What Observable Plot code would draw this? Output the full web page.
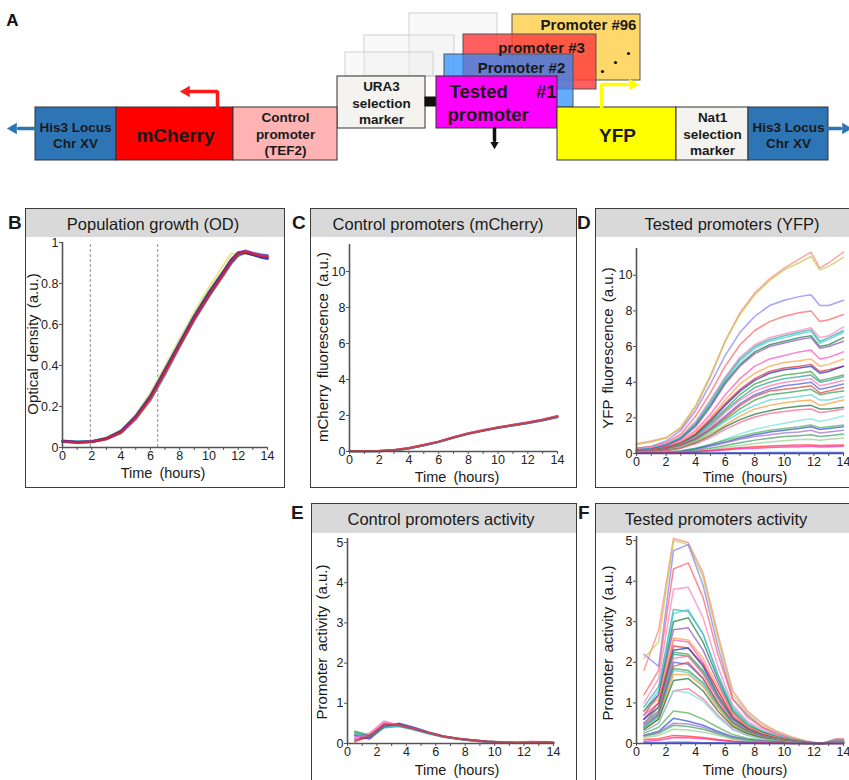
<!DOCTYPE html>
<html><head><meta charset="utf-8">
<script src="https://cdn.jsdelivr.net/npm/d3@7"></script>
<script src="https://cdn.jsdelivr.net/npm/@observablehq/plot@0.6"></script>
<style>
body{margin:0;background:#fff;}
#page{position:relative;width:849px;height:780px;overflow:hidden;font-family:"Liberation Sans",Arial,sans-serif;color:#1a1a1a;background:#fff;}
.frame{position:absolute;border:1.6px solid #3c3c3c;box-sizing:border-box;}
.hdr{position:absolute;left:0;right:0;top:0;background:#d9d9d9;}
.title{position:absolute;font-size:16.5px;transform:translate(-50%,-50%);white-space:nowrap;color:#1a1a1a;}
.plet{position:absolute;font-weight:bold;font-size:19px;transform:translateY(-50%);}
.xl{position:absolute;font-size:14.5px;word-spacing:3px;transform:translate(-50%,-50%);white-space:nowrap;}
.yl{position:absolute;font-size:15px;word-spacing:2px;transform:translate(-50%,-50%) rotate(-90deg);white-space:nowrap;}
svg{overflow:visible;}
</style></head><body><div id="page"></div>
<script>
// ---------------- DATA ----------------
// Panel B: optical density
const timesB = [0,1,2,3,4,5,6,7,8,9,10,11,11.5,12,12.5,13,13.5,14];
const odSeries = [
 [0.030,0.026,0.030,0.048,0.085,0.160,0.265,0.395,0.530,0.660,0.780,0.890,0.945,0.948,0.945,0.940,0.935,0.930],
 [0.028,0.024,0.026,0.040,0.070,0.138,0.230,0.355,0.490,0.620,0.735,0.840,0.895,0.935,0.950,0.945,0.940,0.935],
 [0.033,0.028,0.031,0.046,0.081,0.155,0.253,0.382,0.515,0.645,0.760,0.862,0.915,0.952,0.958,0.950,0.942,0.938],
 [0.030,0.026,0.029,0.044,0.078,0.152,0.248,0.375,0.505,0.635,0.750,0.855,0.910,0.950,0.960,0.948,0.940,0.935],
 [0.031,0.025,0.027,0.041,0.073,0.142,0.236,0.362,0.495,0.625,0.740,0.845,0.900,0.940,0.952,0.942,0.932,0.928],
 [0.029,0.024,0.027,0.043,0.076,0.147,0.243,0.368,0.500,0.628,0.742,0.848,0.900,0.942,0.950,0.940,0.928,0.920],
 [0.032,0.027,0.030,0.045,0.080,0.150,0.250,0.380,0.510,0.640,0.755,0.860,0.915,0.950,0.950,0.940,0.930,0.925],
 [0.030,0.025,0.028,0.042,0.075,0.145,0.240,0.370,0.500,0.630,0.745,0.850,0.905,0.945,0.955,0.945,0.935,0.930]
];
const odColors = ["#f0e070","#30a050","#20a0b0","#a030c0","#ff50b0","#2040d0","#3030a0","#e02030"];
const odMarkers = [1.9, 6.5];

// Panel C: mCherry fluorescence
const timesC = [0,1,2,3,4,5,6,7,8,9,10,11,12,13,14];
const mcherrySeries = [
 [0.02,0.02,0.03,0.07,0.18,0.35,0.54,0.78,1.00,1.17,1.33,1.46,1.60,1.75,1.95],
 [0.03,0.02,0.03,0.08,0.20,0.37,0.56,0.80,1.02,1.19,1.35,1.48,1.62,1.78,1.98],
 [0.01,0.01,0.02,0.06,0.16,0.33,0.52,0.76,0.98,1.15,1.31,1.44,1.57,1.72,1.90],
 [0.02,0.02,0.03,0.07,0.19,0.36,0.55,0.79,1.01,1.18,1.34,1.47,1.61,1.77,1.97],
 [0.02,0.01,0.02,0.06,0.17,0.34,0.53,0.77,0.99,1.16,1.32,1.45,1.58,1.73,1.92],
 [0.03,0.03,0.04,0.08,0.19,0.36,0.55,0.79,1.00,1.17,1.33,1.47,1.60,1.76,1.95]
];
const controlColors = ["#30a040","#a040c0","#3040c0","#ff60c0","#20a0a0","#e03030"];

// Panel D: YFP fluorescence
const timesD = [0,1,2,3,4,5,6,7,8,9,10,11,11.8,12.4,13,14];
const yfpSeries = [
 [0.55,0.70,0.90,1.40,2.60,4.30,6.30,7.90,9.00,9.80,10.40,10.90,11.30,10.40,10.70,11.30],
 [0.50,0.65,0.85,1.50,2.70,4.40,6.30,7.80,8.90,9.70,10.30,10.70,11.05,10.30,10.50,11.00],
 [0.30,0.40,0.70,1.30,2.40,3.90,5.50,6.80,7.70,8.30,8.60,8.80,8.90,8.30,8.30,8.60],
 [0.30,0.40,0.60,1.10,2.10,3.40,4.90,6.10,6.90,7.40,7.70,7.90,8.00,7.40,7.50,7.80],
 [0.25,0.35,0.55,1.00,1.80,3.00,4.30,5.40,6.10,6.50,6.70,6.90,7.05,6.50,6.60,7.10],
 [0.20,0.30,0.50,0.90,1.70,2.90,4.20,5.30,6.00,6.40,6.60,6.80,6.95,6.30,6.50,6.90],
 [0.20,0.30,0.50,0.90,1.70,2.80,4.10,5.20,5.90,6.30,6.50,6.70,6.85,6.20,6.40,6.80],
 [0.20,0.25,0.45,0.85,1.60,2.70,4.00,5.00,5.70,6.10,6.30,6.50,6.60,6.00,6.10,6.50],
 [0.20,0.25,0.45,0.80,1.50,2.60,3.90,4.90,5.60,6.00,6.20,6.40,6.50,5.90,6.00,6.30],
 [0.15,0.20,0.40,0.70,1.30,2.20,3.30,4.20,4.90,5.30,5.50,5.70,5.80,5.30,5.40,5.70],
 [0.15,0.20,0.35,0.65,1.20,2.00,3.00,3.90,4.50,4.90,5.10,5.20,5.30,4.90,5.00,5.30],
 [0.15,0.20,0.35,0.60,1.10,1.90,2.80,3.60,4.20,4.60,4.80,4.90,5.00,4.60,4.70,4.90],
 [0.10,0.15,0.30,0.55,1.05,1.80,2.70,3.50,4.10,4.50,4.70,4.80,4.90,4.50,4.60,4.90],
 [0.10,0.15,0.30,0.55,1.00,1.70,2.50,3.30,3.90,4.20,4.40,4.50,4.60,4.10,4.20,4.40],
 [0.10,0.15,0.30,0.50,0.95,1.60,2.40,3.10,3.70,4.00,4.20,4.30,4.40,4.00,4.10,4.30],
 [0.10,0.15,0.25,0.50,0.90,1.50,2.30,3.00,3.50,3.80,4.00,4.10,4.20,3.80,3.90,4.10],
 [0.10,0.12,0.25,0.45,0.85,1.40,2.10,2.80,3.30,3.60,3.80,3.90,4.00,3.60,3.70,3.90],
 [0.10,0.12,0.25,0.45,0.80,1.35,2.00,2.70,3.20,3.50,3.60,3.70,3.80,3.40,3.50,3.70],
 [0.08,0.10,0.20,0.40,0.75,1.30,1.90,2.50,3.00,3.30,3.40,3.50,3.60,3.30,3.40,3.50],
 [0.08,0.10,0.20,0.40,0.70,1.20,1.80,2.30,2.70,3.00,3.10,3.20,3.30,3.00,3.00,3.20],
 [0.08,0.10,0.20,0.35,0.65,1.10,1.60,2.10,2.50,2.70,2.85,2.95,3.00,2.70,2.80,3.00],
 [0.05,0.10,0.18,0.30,0.60,1.00,1.50,1.90,2.20,2.40,2.55,2.65,2.70,2.50,2.50,2.60],
 [0.05,0.10,0.15,0.30,0.55,0.90,1.35,1.75,2.05,2.25,2.35,2.45,2.50,2.30,2.35,2.50],
 [0.05,0.05,0.08,0.15,0.30,0.50,0.80,1.10,1.35,1.55,1.70,1.85,1.95,1.80,1.90,2.10],
 [0.05,0.05,0.08,0.15,0.30,0.50,0.75,0.95,1.15,1.30,1.40,1.50,1.60,1.45,1.50,1.60],
 [0.03,0.04,0.05,0.10,0.25,0.45,0.65,0.85,1.05,1.20,1.30,1.40,1.50,1.35,1.40,1.50],
 [0.03,0.04,0.05,0.10,0.20,0.40,0.60,0.80,0.95,1.05,1.15,1.20,1.30,1.15,1.20,1.30],
 [0.03,0.03,0.05,0.08,0.15,0.30,0.45,0.60,0.75,0.85,0.95,1.00,1.05,0.95,1.00,1.10],
 [0.03,0.03,0.04,0.07,0.12,0.22,0.35,0.45,0.55,0.65,0.72,0.78,0.80,0.75,0.80,0.85],
 [0.03,0.03,0.04,0.06,0.10,0.17,0.25,0.32,0.38,0.42,0.45,0.47,0.48,0.45,0.46,0.48],
 [0.02,0.02,0.03,0.05,0.08,0.14,0.20,0.26,0.30,0.33,0.36,0.38,0.40,0.37,0.38,0.40],
 [0.02,0.02,0.02,0.02,0.03,0.03,0.04,0.04,0.04,0.05,0.05,0.05,0.05,0.05,0.05,0.05]
];
const testedColors = ["#ff8080","#c8c84a","#8080ff","#ff6060","#ff80c0","#30b0a0","#40c8e0","#1a8040",
 "#9050c0","#ff50c0","#ffa040","#e03030","#2030c0","#40a040","#20a0a0","#ff70a0",
 "#5060e0","#e04040","#30a050","#50d0d0","#ff9a30","#207040","#ff6090","#70e0e0",
 "#50b050","#3050d0","#a070d0","#40a060","#90d090","#ff3030","#ff20a0","#2040ff"];

// Panel E: control promoter activity
const timesE = [0.5,1.5,2.5,3.5,4.5,5.5,6.5,7.5,8.5,9.5,10.5,11.5,12.5,13.5,14];
const controlActivity = [
 [0.30,0.20,0.45,0.48,0.38,0.27,0.18,0.13,0.08,0.05,0.03,0.02,0.03,0.03,0.02],
 [0.10,0.15,0.50,0.45,0.36,0.26,0.17,0.12,0.08,0.05,0.03,0.02,0.04,0.02,0.02],
 [0.20,0.12,0.42,0.50,0.40,0.28,0.18,0.12,0.08,0.05,0.03,0.02,0.02,0.03,0.02],
 [0.15,0.25,0.55,0.45,0.37,0.26,0.17,0.12,0.07,0.04,0.03,0.02,0.05,0.03,0.02],
 [0.25,0.18,0.40,0.43,0.35,0.25,0.17,0.11,0.07,0.04,0.02,0.02,0.03,0.02,0.02],
 [0.05,0.20,0.47,0.46,0.37,0.27,0.18,0.12,0.08,0.05,0.03,0.02,0.02,0.04,0.02]
];

// Panel F: tested promoter activity
const timesF = [0.5,1.5,2.5,3.5,4.5,5.5,6.5,7.5,8.5,9.5,10.5,11.5,12.5,13.5,14];
const testedActivity = [
 [1.80,2.80,5.05,4.95,4.20,2.70,1.30,0.80,0.50,0.30,0.16,0.06,0.00,0.12,0.12],
 [2.10,2.50,5.00,4.90,4.10,2.60,1.20,0.75,0.45,0.28,0.14,0.05,0.00,0.10,0.10],
 [2.20,1.90,4.75,4.90,3.90,2.40,1.10,0.70,0.40,0.25,0.12,0.04,0.00,0.10,0.10],
 [1.20,1.80,4.30,4.45,3.60,2.20,1.10,0.65,0.40,0.22,0.11,0.04,0.00,0.08,0.08],
 [1.00,1.60,3.80,3.85,3.10,1.90,0.95,0.55,0.35,0.20,0.10,0.03,0.00,0.07,0.07],
 [0.90,1.40,3.30,3.25,2.70,1.70,0.85,0.50,0.30,0.18,0.09,0.03,0.00,0.06,0.06],
 [0.80,1.30,3.20,3.30,2.70,1.70,0.90,0.50,0.30,0.18,0.09,0.03,0.00,0.06,0.06],
 [0.80,1.20,3.00,3.10,2.50,1.60,0.80,0.45,0.28,0.16,0.08,0.03,0.00,0.05,0.05],
 [0.70,1.20,2.80,2.85,2.30,1.50,0.75,0.42,0.25,0.15,0.07,0.02,0.00,0.05,0.05],
 [0.70,1.00,2.55,2.50,2.00,1.30,0.70,0.40,0.24,0.14,0.07,0.02,0.00,0.05,0.05],
 [0.80,1.10,2.60,2.55,2.10,1.40,0.75,0.42,0.25,0.15,0.07,0.02,0.00,0.05,0.05],
 [0.60,1.00,2.40,2.35,1.95,1.30,0.65,0.38,0.22,0.13,0.06,0.02,0.00,0.04,0.04],
 [0.60,0.90,2.30,2.35,1.90,1.20,0.62,0.36,0.21,0.12,0.06,0.02,0.00,0.04,0.04],
 [0.50,0.90,2.25,2.20,1.80,1.15,0.60,0.35,0.20,0.12,0.06,0.02,0.00,0.04,0.04],
 [0.50,0.80,2.20,2.15,1.75,1.10,0.58,0.34,0.20,0.11,0.05,0.02,0.00,0.04,0.04],
 [0.50,0.80,2.10,2.15,1.70,1.10,0.55,0.32,0.19,0.11,0.05,0.02,0.00,0.03,0.03],
 [0.45,0.75,2.00,1.95,1.60,1.00,0.52,0.30,0.18,0.10,0.05,0.01,0.00,0.03,0.03],
 [0.40,0.70,1.90,2.00,1.60,1.00,0.50,0.30,0.17,0.10,0.05,0.01,0.00,0.03,0.03],
 [0.40,0.70,1.85,1.80,1.50,0.95,0.50,0.28,0.16,0.09,0.04,0.01,0.00,0.03,0.03],
 [0.40,0.65,1.80,1.75,1.45,0.90,0.48,0.27,0.16,0.09,0.04,0.01,0.00,0.03,0.03],
 [0.35,0.60,1.70,1.70,1.40,0.88,0.45,0.26,0.15,0.08,0.04,0.01,0.00,0.02,0.02],
 [0.35,0.60,1.55,1.60,1.30,0.80,0.42,0.24,0.14,0.08,0.04,0.01,0.00,0.02,0.02],
 [0.30,0.50,1.30,1.35,1.10,0.70,0.36,0.20,0.12,0.07,0.03,0.01,0.00,0.02,0.02],
 [0.30,0.50,1.30,1.25,1.05,0.65,0.34,0.20,0.11,0.06,0.03,0.01,0.00,0.02,0.02],
 [0.25,0.40,0.80,0.75,0.60,0.40,0.22,0.13,0.08,0.05,0.02,0.00,0.00,0.02,0.02],
 [0.20,0.30,0.62,0.55,0.45,0.30,0.17,0.10,0.06,0.04,0.02,0.00,0.00,0.01,0.01],
 [0.20,0.28,0.50,0.48,0.40,0.27,0.15,0.09,0.05,0.03,0.01,0.00,0.00,0.01,0.01],
 [0.18,0.25,0.45,0.42,0.35,0.24,0.13,0.08,0.05,0.03,0.01,0.00,0.00,0.01,0.01],
 [0.15,0.20,0.35,0.33,0.28,0.20,0.11,0.07,0.04,0.02,0.01,0.00,0.00,0.01,0.01],
 [0.10,0.12,0.20,0.18,0.15,0.10,0.06,0.04,0.02,0.01,0.00,0.00,0.00,0.00,0.00],
 [0.05,0.08,0.15,0.14,0.12,0.08,0.05,0.03,0.02,0.01,0.00,0.00,0.00,0.00,0.00],
 [0.02,0.02,0.03,0.03,0.02,0.02,0.01,0.01,0.00,0.00,0.00,0.00,0.00,0.00,0.00]
];

// Tick labels
const xMajorTicks = [0,2,4,6,8,10,12,14];
const xMinorTicks = [1,3,5,7,9,11,13];
const odTicks = [0,0.2,0.4,0.6,0.8,1];
const fluoTicks = [0,2,4,6,8,10];
const activityTicks = [0,1,2,3,4,5];

// Panel A construct (schematic)
const constructBoxes = [
 {x1:409,x2:497,y1:13,y2:76,fill:"rgba(238,238,238,0.35)",stroke:"#cfcfcf"},
 {x1:364,x2:454,y1:35,y2:76,fill:"rgba(238,238,238,0.35)",stroke:"#cfcfcf"},
 {x1:345,x2:433,y1:52,y2:76,fill:"rgba(238,238,238,0.35)",stroke:"#cfcfcf"},
 {x1:512,x2:640,y1:14,y2:80,fill:"rgba(255,214,100,0.95)",stroke:"#555"},
 {x1:463,x2:596,y1:34,y2:89,fill:"rgba(255,60,60,0.82)",stroke:"#555"},
 {x1:444,x2:573,y1:54,y2:107,fill:"rgba(40,140,255,0.72)",stroke:"#555"},
 {x1:337,x2:425,y1:76,y2:128,fill:"#f4f3ef",stroke:"#333"},
 {x1:425,x2:436,y1:97,y2:106,fill:"#111",stroke:"#111"},
 {x1:436,x2:557,y1:76,y2:128,fill:"#ff00ff",stroke:"#333"},
 {x1:35,x2:116,y1:107,y2:160,fill:"#2e75b6",stroke:"#333"},
 {x1:116,x2:233,y1:107,y2:160,fill:"#ff0000",stroke:"#333"},
 {x1:233,x2:337,y1:107,y2:160,fill:"#ffb3b3",stroke:"#333"},
 {x1:557,x2:676,y1:107,y2:160,fill:"#ffff00",stroke:"#333"},
 {x1:676,x2:748,y1:107,y2:160,fill:"#f4f3ef",stroke:"#333"},
 {x1:748,x2:828,y1:107,y2:160,fill:"#2e75b6",stroke:"#333"}
];
const constructLabelsBig = [
 {x:175,y:135,text:"mCherry"},
 {x:617,y:135,text:"YFP"}
];
const testedLabelStart = [{x:449,y:92,text:"Tested"},{x:447,y:115,text:"promoter"}];
const testedLabelEnd = [{x:556,y:92,text:"#1"}];
const constructLabelsMid = [
 {x:75,y:134,text:"His3 Locus\nChr XV"},
 {x:788,y:134,text:"His3 Locus\nChr XV"},
 {x:285,y:133,text:"Control\npromoter\n(TEF2)"},
 {x:381,y:102,text:"URA3\nselection\nmarker"},
 {x:712,y:133,text:"Nat1\nselection\nmarker"}
];
const stackLabels = [
 {x:588,y:25,text:"Promoter #96"},
 {x:541,y:48,text:"promoter #3"},
 {x:521,y:68,text:"Promoter #2"}
];
const stackDots = [{x:628,y:53},{x:615,y:62},{x:602,y:71}];
const arrowStems = [
 {id:"red",x:217,y:107,c:"#ff1a1a"},{id:"red",x:217,y:91,c:"#ff1a1a"},{id:"red",x:190,y:91,c:"#ff1a1a"},
 {id:"yfp",x:601,y:107,c:"#ffff00"},{id:"yfp",x:601,y:84,c:"#ffff00"},{id:"yfp",x:627,y:84,c:"#ffff00"},
 {id:"blk",x:494,y:128,c:"#111"},{id:"blk",x:494,y:140,c:"#111"},
 {id:"bl",x:35,y:128,c:"#2e75b6"},{id:"bl",x:18,y:128,c:"#2e75b6"},
 {id:"br",x:828,y:128,c:"#2e75b6"},{id:"br",x:840,y:128,c:"#2e75b6"}
];
const arrowHeads = [
 {x:186,y:91,rot:-90,c:"#ff1a1a",r:5.5},
 {x:632,y:84,rot:90,c:"#ffff00",r:5.5},
 {x:494,y:144,rot:180,c:"#111",r:4},
 {x:13,y:128,rot:-90,c:"#2e75b6",r:5.5},
 {x:845,y:128,rot:90,c:"#2e75b6",r:5.5}
];

// ---------------- LAYOUT ----------------
const page = document.getElementById("page");
function el(cls, css, text){
  const d = document.createElement("div");
  d.className = cls; Object.assign(d.style, css);
  if (text != null) d.textContent = text;
  page.appendChild(d); return d;
}
const font = "'Liberation Sans', Arial, sans-serif";

// Panel A
const schematic = Plot.plot({
  width:849, height:175, margin:0,
  x:{type:"identity",axis:null}, y:{type:"identity",axis:null}, color:{type:"identity"}, r:{type:"identity"},
  style:{background:"transparent", fontFamily:font, color:"#1a1a1a"},
  marks:[
    Plot.rect(constructBoxes,{x1:"x1",x2:"x2",y1:"y1",y2:"y2",fill:"fill",stroke:"stroke",strokeWidth:1}),
    Plot.line(arrowStems,{x:"x",y:"y",z:"id",stroke:"c",strokeWidth:3.5,strokeLinejoin:"miter"}),
    Plot.dot(arrowHeads,{x:"x",y:"y",rotate:"rot",fill:"c",r:"r",symbol:"triangle2",stroke:null}),
    Plot.text(constructLabelsBig,{x:"x",y:"y",text:"text",fontSize:19,fontWeight:"bold",fill:"#1a1a1a"}),
    Plot.text(testedLabelStart,{x:"x",y:"y",text:"text",textAnchor:"start",fontSize:18.5,fontWeight:"bold",fill:"#1a1a1a"}),
    Plot.text(testedLabelEnd,{x:"x",y:"y",text:"text",textAnchor:"end",fontSize:18.5,fontWeight:"bold",fill:"#1a1a1a"}),
    Plot.text(constructLabelsMid,{x:"x",y:"y",text:"text",fontSize:13.5,fontWeight:"bold",lineHeight:1.2,fill:"#1a1a1a"}),
    Plot.text(stackLabels,{x:"x",y:"y",text:"text",fontSize:15,fontWeight:"bold",fill:"#1a1a1a"}),
    Plot.dot(stackDots,{x:"x",y:"y",r:1.6,fill:"#111"}),
    Plot.text(["A"],{x:12,y:20,text:d=>d,fontSize:17,fontWeight:"bold",fill:"#111"})
  ]
});
Object.assign(schematic.style,{position:"absolute",left:"0px",top:"0px"});
page.appendChild(schematic);

// frames + headers
const frames = [
 {l:25,t:208,w:260,h:280,hh:30,title:"Population growth (OD)",tx:153,ty:224,let:"B",lx:8,ly:223},
 {l:310,t:208,w:267,h:280,hh:30,title:"Control promoters (mCherry)",tx:438,ty:224,let:"C",lx:292,ly:223},
 {l:595,t:208,w:270,h:280,hh:30,title:"Tested promoters (YFP)",tx:732,ty:224,let:"D",lx:577,ly:223},
 {l:311,t:503,w:266,h:300,hh:31,title:"Control promoters activity",tx:441,ty:519,let:"E",lx:291,ly:513},
 {l:595,t:503,w:270,h:300,hh:31,title:"Tested promoters activity",tx:716,ty:519,let:"F",lx:578,ly:513}
];
frames.forEach(f=>{
  const fr = el("frame",{left:f.l+"px",top:f.t+"px",width:f.w+"px",height:f.h+"px"});
  const h = document.createElement("div"); h.className="hdr"; h.style.height=(f.hh-1.6)+"px"; fr.appendChild(h);
  el("title",{left:f.tx+"px",top:f.ty+"px"},f.title);
  el("plet",{left:f.lx+"px",top:f.ly+"px"},f.let);
});

function tidy(times, series, colors){
  const rows=[];
  series.forEach((vals,i)=>vals.forEach((v,j)=>rows.push({t:times[j],v,s:i,c:colors[i%colors.length]})));
  return rows;
}
function panel(cfg){
  const [left,top,W,H] = cfg.box;
  const marks = [];
  if (cfg.dashed) marks.push(Plot.ruleX(cfg.dashed,{y1:cfg.yDomain[0],y2:cfg.yDomain[1],stroke:"#9a9a9a",strokeDasharray:"3,2",strokeWidth:1.1}));
  marks.push(Plot.line(cfg.rows,{x:"t",y:"v",z:"s",stroke:"c",strokeWidth:cfg.sw,strokeOpacity:cfg.op,curve:"linear"}));
  marks.push(Plot.ruleX([0],{stroke:"#555",strokeWidth:1.6}));
  marks.push(Plot.ruleY([0],{stroke:"#555",strokeWidth:1.6}));
  marks.push(Plot.axisX({ticks:xMinorTicks,tickFormat:()=>"",tickSize:3,label:null,stroke:"#555"}));
  marks.push(Plot.axisX({ticks:xMajorTicks,tickFormat:d=>String(d),tickSize:3,tickPadding:1,label:null,fontSize:12.5,stroke:"#555",fill:"#222"}));
  marks.push(Plot.axisY({ticks:cfg.yTicks,tickFormat:d=>String(d),tickSize:3,tickPadding:1,label:null,fontSize:12.5,stroke:"#555",fill:"#222"}));
  const p = Plot.plot({
    width:W, height:H,
    marginLeft:cfg.x0-left, marginRight:left+W-cfg.x14,
    marginTop:cfg.yTop-top, marginBottom:top+H-cfg.y0,
    x:{domain:[0,14],label:null}, y:{domain:cfg.yDomain,label:null},
    color:{type:"identity"},
    style:{background:"transparent",fontFamily:font,fontSize:"12px",color:"#222",overflow:"visible"},
    marks
  });
  Object.assign(p.style,{position:"absolute",left:left+"px",top:top+"px"});
  page.appendChild(p);
  el("xl",{left:cfg.xl[0]+"px",top:cfg.xl[1]+"px"},"Time (hours)");
  el("yl",{left:cfg.yl[0]+"px",top:cfg.yl[1]+"px"},cfg.ylab);
}

panel({box:[27,238,256,246],x0:62,x14:267,y0:447,yTop:242,yDomain:[0,1],yTicks:odTicks,
  rows:tidy(timesB,odSeries,odColors),sw:2.3,op:0.85,dashed:odMarkers,
  xl:[163,473],yl:[32,344],ylab:"Optical density (a.u.)"});
panel({box:[312,238,263,248],x0:349,x14:557,y0:451,yTop:244,yDomain:[0,11.5],yTicks:fluoTicks,
  rows:tidy(timesC,mcherrySeries,controlColors),sw:2,op:0.8,
  xl:[457,477],yl:[322,347],ylab:"mCherry fluorescence (a.u.)"});
panel({box:[597,238,252,248],x0:636,x14:843,y0:453,yTop:248,yDomain:[0,11.5],yTicks:fluoTicks,
  rows:tidy(timesD,yfpSeries,testedColors),sw:1.5,op:0.72,
  xl:[745,477],yl:[607,348],ylab:"YFP fluorescence (a.u.)"});
panel({box:[313,536,262,244],x0:347,x14:553,y0:743,yTop:538,yDomain:[0,5.1],yTicks:activityTicks,
  rows:tidy(timesE,controlActivity,controlColors),sw:2,op:0.75,
  xl:[457,770],yl:[321,642],ylab:"Promoter activity (a.u.)"});
panel({box:[597,536,252,244],x0:636,x14:843,y0:743,yTop:536,yDomain:[0,5.1],yTicks:activityTicks,
  rows:tidy(timesF,testedActivity,testedColors),sw:1.5,op:0.72,
  xl:[745,770],yl:[607,643],ylab:"Promoter activity (a.u.)"});
</script></body></html>
